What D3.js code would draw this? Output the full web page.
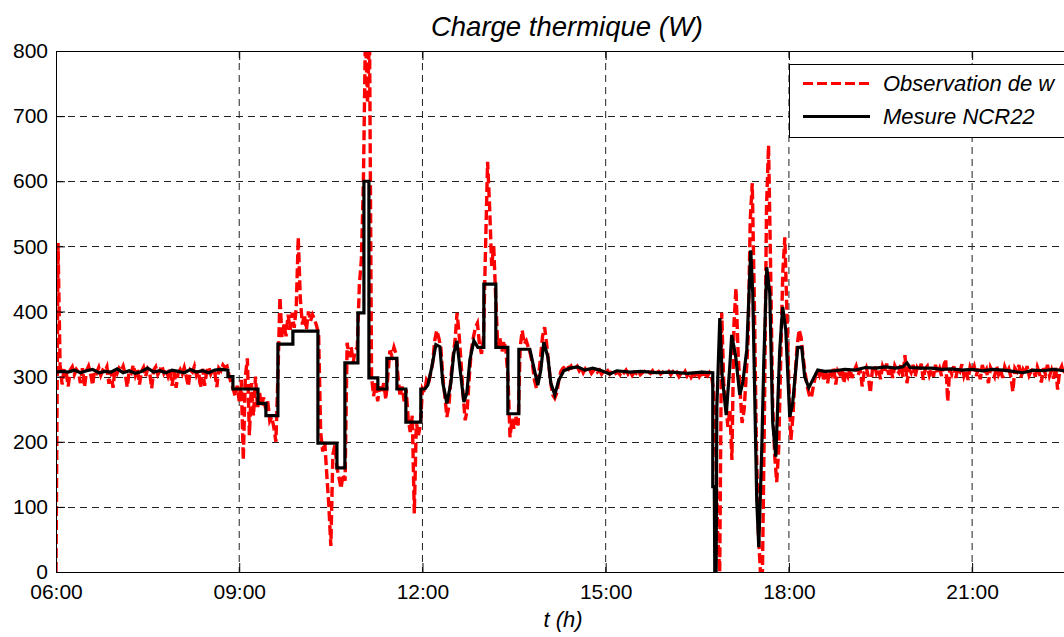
<!DOCTYPE html>
<html><head><meta charset="utf-8">
<script src="https://cdn.jsdelivr.net/npm/d3@7"></script>
<style>body{margin:0;background:#fff}svg{display:block}</style>
</head><body>
<svg id="c" width="1064" height="637"></svg>
<script>
// ---------- data ----------
const titleText = "Charge thermique (W)";
const xLabelText = "t (h)";
const legendLabels = ["Observation de w", "Mesure NCR22"];
// time in minutes since midnight
const xDomain = [360, 1364];
const xTickValues = [360, 540, 720, 900, 1080, 1260];
const xTickLabels = ["06:00", "09:00", "12:00", "15:00", "18:00", "21:00"];
const yTicks = [0, 100, 200, 300, 400, 500, 600, 700, 800];

// "Observation de w": sampled every 2 min from 06:00
const redStart = 360, redStep = 2;
const red06 = [0, 505, 318, 288, 312, 306, 285, 310, 315, 303, 311, 307, 290, 313, 284, 309, 316, 304, 287, 311, 306, 314, 302, 310, 308, 315, 289, 309, 283, 312];
const red07 = [305, 313, 309, 316, 304, 284, 310, 306, 318, 302, 311, 288, 308, 314, 300, 312, 307, 282, 310, 315, 303, 309, 317, 305, 311, 301, 313, 286, 308, 283];
const red08 = [306, 311, 304, 314, 300, 285, 310, 307, 316, 302, 309, 283, 312, 286, 308, 315, 304, 311, 306, 284, 313, 309, 318, 314, 316, 302, 290, 282, 270, 286];
const red09 = [262, 295, 172, 300, 328, 210, 290, 240, 300, 250, 275, 255, 268, 250, 262, 232, 238, 222, 200, 300, 422, 360, 380, 362, 395, 372, 398, 375, 405, 514];
const red10 = [420, 380, 395, 372, 400, 385, 395, 388, 378, 365, 215, 185, 200, 150, 103, 40, 180, 195, 160, 145, 128, 150, 140, 352, 330, 345, 322, 340, 345, 440];
const red11 = [480, 600, 830, 720, 830, 300, 270, 290, 262, 285, 275, 290, 265, 300, 340, 332, 345, 335, 300, 270, 285, 262, 280, 235, 215, 240, 90, 230, 210, 225];
const red12 = [281, 275, 295, 290, 305, 320, 355, 371, 360, 345, 300, 270, 238, 255, 300, 330, 355, 398, 365, 320, 270, 233, 250, 300, 340, 360, 375, 382, 350, 335];
const red13 = [360, 500, 630, 560, 470, 500, 420, 345, 360, 338, 355, 340, 300, 207, 235, 220, 238, 225, 345, 371, 350, 355, 345, 335, 320, 295, 282, 300, 330, 362];
const red14 = [376, 350, 320, 290, 272, 267, 275, 295, 308, 313, 315, 318, 312, 316, 310, 313, 316, 309, 314, 306, 312, 308, 311, 305, 309, 313, 307, 310, 304, 308];
const red15 = [306, 309, 304, 308, 311, 305, 307, 303, 309, 306, 310, 304, 308, 302, 307, 305, 309, 303, 306, 308, 304, 307, 305, 309, 303, 306, 308, 304, 307, 305];
const red16 = [305, 308, 303, 307, 302, 306, 300, 305, 303, 308, 301, 306, 299, 304, 302, 307, 300, 305, 298, 304, 301, 306, 300, 280, 200, 60, 0, 398, 290, 260];
const red17 = [223, 250, 172, 380, 436, 340, 280, 229, 249, 300, 361, 540, 597, 420, 200, 60, 0, 0, 250, 560, 655, 470, 260, 180, 138, 190, 330, 460, 514, 400];
const red18 = [290, 203, 240, 300, 345, 372, 360, 330, 305, 285, 272, 267, 285, 300, 310, 302, 312, 296, 308, 290, 310, 303, 315, 288, 309, 304, 313, 290, 308, 300];
const red19 = [312, 298, 309, 316, 302, 311, 285, 307, 314, 300, 275, 310, 318, 305, 312, 296, 316, 308, 320, 303, 314, 298, 317, 310, 306, 319, 300, 333, 290, 312];
const red20 = [306, 318, 300, 314, 309, 320, 295, 312, 316, 302, 311, 300, 318, 306, 313, 301, 316, 327, 262, 312, 304, 316, 298, 313, 308, 319, 301, 310, 295, 315];
const red21 = [308, 316, 301, 312, 296, 318, 305, 311, 290, 314, 307, 300, 317, 303, 310, 298, 315, 306, 312, 300, 277, 313, 308, 318, 299, 311, 305, 316, 302, 309];
const red22 = [312, 300, 315, 306, 291, 313, 304, 318, 301, 310, 297, 314, 280, 309, 316, 303, 311, 299, 314, 305, 310, 302, 308];

// "Mesure NCR22": [minute, value]
const ncrPoints = [
  [360,307],[366,308],[372,307],[378,310],[384,306],[390,309],[396,311],[402,306],[408,308],[414,307],
  [420,312],[426,306],[432,309],[438,305],[444,308],[450,313],[456,307],[462,309],[468,306],[474,310],
  [480,308],[486,306],[492,311],[498,307],[504,309],[510,306],[516,310],[522,311],[528.9,310],
  [528.9,300],[533.8,300],[533.8,281],[558.4,281],[558.4,259],[566.2,259],[566.2,240],[578.0,240],
  [578.0,350],[592.7,350],[592.7,370],[617.3,370],[617.3,198],[636.0,198],[636.0,160],[643.8,160],
  [643.8,321],[656.6,321],[656.6,398],[662.5,398],[662.5,600],[667.4,600],[667.4,298],[676.2,298],
  [676.2,281],[685.0,281],[685.0,328],[694.9,328],[694.9,281],[703.7,281],[703.7,230],[718.4,230],
  [718.4,281],[722.4,281],[725.3,287],[729.2,315],[733.2,349],[737.1,346],[740.0,290],[744.0,259],
  [747.9,290],[750.8,336],[753.8,355],[756.7,315],[760.7,261],[763.6,275],[766.6,326],[770.5,355],
  [774.4,345],[780.3,345],[780.3,442],[792.1,442],[792.1,345],[803.9,345],[803.9,243],[814.7,243],
  [814.7,342],[825.5,342],[828.4,321],[833.3,287],[836.3,310],[839.2,353],[843.2,330],[846.1,290],
  [850.0,272],[854.0,295],[858.9,309],[864.8,313],[872.6,315],[879.5,310],[887.3,313],[894.2,310],
  [904.0,304],[910.9,309],[923.7,307],[935,308],[950,306],[965,307],[980,305],[995,307],[1005.2,306],
  [1005.2,131],[1006.7,131],[1007.2,0],[1008.5,0],[1009.2,253],[1012.1,390],[1014.5,300],[1018.4,241],
  [1021.9,315],[1023.8,364],[1027.8,330],[1031.7,272],[1034.6,290],[1038.6,341],[1042.5,494],[1044.5,428],
  [1048.4,110],[1050.4,38],[1053.3,187],[1055.3,321],[1058.2,468],[1061.2,428],[1064.1,229],[1067.1,177],
  [1071.0,341],[1073.9,407],[1076.9,372],[1080.8,238],[1083.7,259],[1088.7,345],[1092.6,345],[1095.5,300],
  [1099.5,283],[1103.4,295],[1108.3,310],[1115.2,308],[1125,309],[1135,311],[1145,310],[1155,314],
  [1165,313],[1175,315],[1185,313],[1192,315],[1196,321],[1199,314],[1210,313],[1220,313],[1230,311],
  [1240,312],[1250,310],[1260,311],[1270,309],[1280,311],[1290,310],[1300,308],[1310,306],[1320,310],
  [1330,309],[1340,311],[1350,309],[1364,310]
];

const redValues = [].concat(red06, red07, red08, red09, red10, red11, red12, red13, red14, red15,
  red16, red17, red18, red19, red20, red21, red22);

// ---------- drawing ----------
const FONT = "'Liberation Sans', Arial, Helvetica, sans-serif";
const svg = d3.select("#c");
svg.append("rect").attr("width", 1064).attr("height", 637).attr("fill", "#fff");

const L = 56, T = 51, R = 1078, B = 572;
const x = d3.scaleLinear().domain(xDomain).range([L, R]);
const y = d3.scaleLinear().domain([0, 800]).range([B, T]);

// grid
const grid = svg.append("g");
grid.selectAll("line.v").data(xTickValues.filter(v => v > xDomain[0])).join("line")
  .attr("class", "v").attr("x1", d => x(d)).attr("x2", d => x(d)).attr("y1", T).attr("y2", B)
  .attr("stroke", "#222").attr("stroke-width", 1).attr("stroke-dasharray", "7,5");
grid.selectAll("line.h").data(yTicks.filter(v => v > 0 && v < 800)).join("line")
  .attr("class", "h").attr("x1", L).attr("x2", R).attr("y1", d => Math.round(y(d)) + 0.5).attr("y2", d => Math.round(y(d)) + 0.5)
  .attr("stroke", "#222").attr("stroke-width", 1).attr("stroke-dasharray", "7,5");

// clip
svg.append("clipPath").attr("id", "clip").append("rect")
  .attr("x", L).attr("y", T).attr("width", R - L).attr("height", B - T);

const plot = svg.append("g").attr("clip-path", "url(#clip)");
const redLine = d3.line().x((d, i) => x(redStart + i * redStep)).y(d => y(d));
plot.append("path").datum(redValues).attr("d", redLine)
  .attr("fill", "none").attr("stroke", "#ff0000").attr("stroke-width", 3.4)
  .attr("stroke-dasharray", "10,4");
const ncrLine = d3.line().x(d => x(d[0])).y(d => y(d[1]));
plot.append("path").datum(ncrPoints).attr("d", ncrLine)
  .attr("fill", "none").attr("stroke", "#000").attr("stroke-width", 3.2)
  .attr("stroke-linejoin", "miter");

// axes
function styleAxis(g) {
  g.select(".domain").remove();
  g.selectAll(".tick line").attr("stroke", "#000");
  g.selectAll(".tick text").attr("fill", "#000").style("font-family", FONT).style("font-size", "21px");
}
svg.append("g").attr("transform", `translate(${L},0)`)
  .call(d3.axisLeft(y).tickValues(yTicks).tickSize(-9).tickPadding(8)).call(styleAxis);
svg.append("g").attr("transform", `translate(${R},0)`)
  .call(d3.axisRight(y).tickValues(yTicks).tickSize(-9).tickFormat("")).call(styleAxis);
svg.append("g").attr("transform", `translate(0,${B})`)
  .call(d3.axisBottom(x).tickValues(xTickValues).tickFormat((d, i) => xTickLabels[i]).tickSize(-9).tickPadding(12)).call(styleAxis);
svg.append("g").attr("transform", `translate(0,${T})`)
  .call(d3.axisTop(x).tickValues(xTickValues).tickFormat("").tickSize(-9)).call(styleAxis);

// box
svg.append("rect").attr("x", L + 0.5).attr("y", T + 0.5).attr("width", R - L).attr("height", B - T)
  .attr("fill", "none").attr("stroke", "#000").attr("stroke-width", 1);

// title & label
svg.append("text").attr("x", (L + R) / 2).attr("y", 36).attr("text-anchor", "middle")
  .style("font-family", FONT).style("font-style", "italic").style("font-size", "27.5px").text(titleText);
svg.append("text").attr("x", (L + R) / 2 - 4).attr("y", 627).attr("text-anchor", "middle")
  .style("font-family", FONT).style("font-style", "italic").style("font-size", "22px").text(xLabelText);

// legend
const lg = svg.append("g");
lg.append("rect").attr("x", 789.5).attr("y", 64.5).attr("width", 290).attr("height", 73)
  .attr("fill", "#fff").attr("stroke", "#000").attr("stroke-width", 1);
lg.append("line").attr("x1", 803).attr("x2", 870).attr("y1", 83.5).attr("y2", 83.5)
  .attr("stroke", "#ff0000").attr("stroke-width", 3).attr("stroke-dasharray", "10,4");
lg.append("line").attr("x1", 803).attr("x2", 870).attr("y1", 116.5).attr("y2", 116.5)
  .attr("stroke", "#000").attr("stroke-width", 3.2);
lg.selectAll("text").data(legendLabels).join("text")
  .attr("x", 883).attr("y", (d, i) => 91 + i * 33)
  .style("font-family", FONT).style("font-style", "italic").style("font-size", "22px").text(d => d);
</script>
</body></html>
